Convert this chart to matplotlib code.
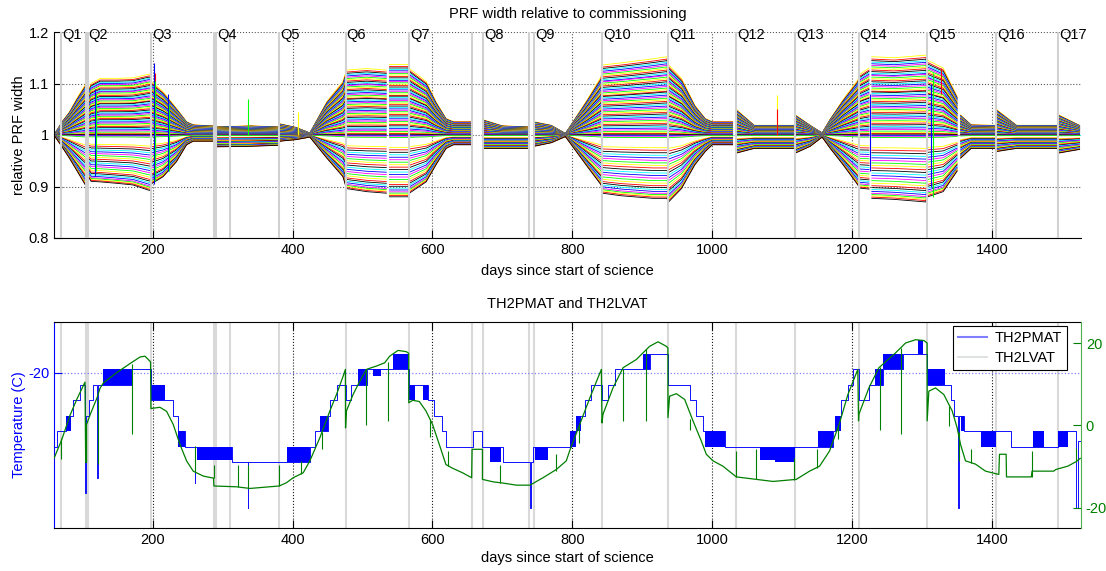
import numpy as np
import matplotlib.pyplot as plt
from matplotlib.lines import Line2D

plt.rcParams['font.family'] = ['Liberation Sans', 'DejaVu Sans']
plt.rcParams['font.size'] = 10
plt.rcParams['axes.unicode_minus'] = False

# ---------------- top panel: PRF width envelope ----------------
nan = np.nan
env_day = [59, 70, 81, 92, 103.3, 104.3, 107.5, 112, 125, 150, 172, 194, 197,
           198, 215, 234, 248.5, 258, 286, 287.5, 291.5, 340, 380, 382, 405, 424.7,
           449, 472, 477, 506, 534, 535.5, 538.5, 565, 567, 591, 605, 619.5, 630, 656,
           656.6, 672, 700, 737, 738, 745, 770, 790, 819.5, 841, 843, 870, 915, 935,
           937.5, 956, 975, 990, 1000, 1029, 1031, 1035, 1060, 1117, 1118, 1119, 1140,
           1157, 1168, 1187, 1208, 1210, 1224, 1225.5, 1228, 1260, 1305, 1308, 1330,
           1350, 1352, 1355, 1370, 1404, 1405, 1407, 1435, 1493, 1494.2, 1495.5, 1525]
env_up = [0.0, 0.025, 0.045, 0.072, 0.097, nan, 0.085, 0.100, 0.110, 0.110, 0.111, 0.118, 0.118,
          0.104, 0.084, 0.052, 0.026, 0.020, 0.018, nan, 0.016, 0.018, 0.016, 0.022, 0.015, 0.004,
          0.065, 0.104, 0.126, 0.129, 0.126, nan, 0.137, 0.137, 0.129, 0.104, 0.065, 0.032, 0.026, 0.026,
          nan, 0.030, 0.018, 0.016, nan, 0.026, 0.019, 0.003, 0.065, 0.113, 0.136, 0.140, 0.148, 0.152,
          0.136, 0.110, 0.058, 0.032, 0.026, 0.026, nan, 0.049, 0.019, 0.019, nan, 0.039, 0.019,
          0.004, 0.030, 0.069, 0.107, 0.117, 0.130, nan, 0.152, 0.150, 0.155, 0.145, 0.130,
          0.075, nan, 0.039, 0.020, 0.019, nan, 0.049, 0.019, 0.019, nan, 0.039, 0.019]
env_lo = [0.0, 0.022, 0.045, 0.070, 0.096, nan, 0.080, 0.090, 0.091, 0.094, 0.097, 0.107, 0.108,
          0.095, 0.081, 0.052, 0.019, 0.012, 0.012, nan, 0.023, 0.022, 0.020, 0.012, 0.009, 0.004,
          0.045, 0.081, 0.104, 0.110, 0.113, nan, 0.120, 0.120, 0.113, 0.091, 0.058, 0.026, 0.019, 0.019,
          nan, 0.026, 0.026, 0.026, nan, 0.022, 0.015, 0.003, 0.058, 0.097, 0.113, 0.118, 0.123, 0.123,
          0.130, 0.104, 0.058, 0.032, 0.019, 0.019, nan, 0.035, 0.026, 0.026, nan, 0.035, 0.022,
          0.004, 0.025, 0.058, 0.097, 0.103, 0.105, nan, 0.123, 0.125, 0.130, 0.120, 0.110,
          0.070, nan, 0.045, 0.026, 0.026, nan, 0.032, 0.026, 0.026, nan, 0.035, 0.028]

# relative position of each CCD channel inside the envelope (+ upper, - lower)
chan_frac = [1.00, 0.97, 0.95, 0.93, 0.91, 0.89, 0.87, 0.85, 0.83, 0.81, 0.79, 0.77, 0.76, 0.74,
             0.72, 0.70, 0.68, 0.66, 0.64, 0.62, 0.60, 0.58, 0.56, 0.55, 0.53, 0.51, 0.49, 0.47,
             0.45, 0.43, 0.41, 0.39, 0.37, 0.35, 0.33, 0.31, 0.29, 0.27, 0.25, 0.23, 0.21, 0.19,
             0.17, 0.15, 0.13, 0.11, 0.09, 0.07, 0.05, 0.03, 0.02, 0.01, 0.00, -0.01, -0.02, -0.04,
             -0.20, -0.24, -0.28, -0.32, -0.36, -0.40, -0.44, -0.48, -0.52, -0.56, -0.60, -0.64,
             -0.68, -0.72, -0.76, -0.80, -0.83, -0.86, -0.89, -0.92, -0.94, -0.96, -0.98, -1.00]

# short vertical glitches in the top panel
tspk_day = [118, 119, 202, 203, 204, 222, 224, 336, 408, 1092, 1093, 1225, 1313, 1315, 1327]
tspk_lo = [0.92, 0.93, 0.905, 0.92, 0.91, 0.93, 0.93, 1.0, 1.0, 1.0, 1.0, 0.93, 0.90, 0.88, 1.08]
tspk_hi = [1.09, 1.08, 1.14, 1.12, 1.105, 1.08, 1.06, 1.07, 1.045, 1.078, 1.05, 1.08, 1.10, 1.12, 1.13]
tspk_col = ['b', 'g', 'b', 'r', 'g', 'b', 'g', 'g', 'y', 'y', 'r', 'b', 'b', 'g', 'r']

# quarter boundaries and labels
qline_day = [69, 104.3, 107.1, 197.6, 287.6, 290.5, 310.4, 380.9, 475.7, 566.1, 656.6, 671.9,
             738, 744.7, 842.3, 936.6, 1034.3, 1118.6, 1209, 1307.1, 1405.7, 1494.7]
qlabel_day = [69, 107.1, 197.6, 290.5, 380.9, 475.7, 566.1, 671.9, 744.7, 842.3, 936.6,
              1034.3, 1118.6, 1209, 1307.1, 1405.7, 1494.7]
qlabels = ['Q%d' % n for n in range(1, 18)]

# ---------------- bottom panel: TH2PMAT (left axis, step trace) ----------------
pmat_day = [59.0, 63.7, 76.1, 85.7, 96.1, 103.5, 105.0, 109.4, 115.2, 121.0, 122.0, 170.0,
            197.6, 229.5, 236.6, 246.1, 260.0, 261.0, 312.8, 336.0, 337.0, 424.7, 431.9,
            450.9, 453.3, 463.0, 475.7, 484.2, 505.7, 566.1, 593.8, 601.9, 612.9, 620.0,
            658.1, 671.4, 700.9, 740.0, 741.5, 743.8, 798.5, 805.7, 817.6, 827.1, 842.3,
            850.9, 860.4, 910.4, 936.6, 967.6, 977.1, 986.6, 1017.6, 1172.4, 1174.7, 1184.2,
            1193.7, 1200.9, 1209.0, 1223.7, 1243.8, 1272.4, 1307.1, 1341.4, 1346.1, 1351.5,
            1353.0, 1360.4, 1427.1, 1493.8, 1520.0, 1522.5, 1527.0]
pmat_temp = [-22.39, -21.89, -21.39, -20.89, -20.39, -23.87, -21.39, -20.89, -20.39, -23.39,
             -20.39, -19.89, -20.89, -21.39, -21.89, -22.39, -23.55, -22.39, -22.89, -24.36,
             -22.89, -22.39, -21.89, -21.39, -20.89, -20.39, -20.89, -20.39, -19.89, -20.39,
             -20.89, -21.39, -21.89, -22.39, -21.89, -22.39, -22.89, -24.36, -22.89, -22.39,
             -21.89, -21.39, -20.89, -20.39, -20.89, -20.39, -19.89, -19.39, -20.39, -20.89,
             -21.39, -21.89, -22.39, -21.89, -21.39, -20.89, -20.39, -19.89, -20.89, -20.39,
             -19.89, -19.39, -20.39, -20.89, -21.39, -24.36, -21.39, -21.89, -22.39, -21.89,
             -24.36, -22.20, -22.20]

# dense toggling between two readout levels (drawn as filled blocks)
blk_start = [76, 129.5, 197.6, 236.6, 262.8, 391.4, 439.0, 493.7, 515.2, 543.8, 566.1, 586.6,
             681.9, 746.2, 796.1, 805.7, 900.9, 989.0, 1067.6, 1089.0, 1150.9, 1174.7, 1231.9,
             1243.8, 1293.8, 1308.1, 1355.7, 1384.2, 1459.0, 1493.8]
blk_end = [84, 170.0, 217.6, 246.0, 312.8, 424.7, 450.9, 505.7, 527.1, 565.2, 574.7, 593.8,
           698.5, 765.2, 805.7, 812.0, 910.4, 1017.6, 1089.0, 1117.6, 1172.4, 1184.2, 1243.8,
           1272.4, 1300.9, 1331.9, 1360.4, 1405.7, 1474.7, 1508.1]
blk_lo = [-21.89, -20.39, -20.89, -22.39, -22.80, -22.89, -21.89, -20.39, -20.10, -19.89, -20.89,
          -20.89, -22.89, -22.80, -22.39, -21.89, -19.89, -22.39, -22.80, -22.89, -22.39, -21.89,
          -20.39, -19.89, -19.39, -20.39, -21.89, -22.39, -22.39, -22.39]
blk_hi = [-21.39, -19.89, -20.39, -21.89, -22.39, -22.39, -21.39, -19.89, -19.89, -19.39, -20.39,
          -20.39, -22.39, -22.39, -21.89, -21.39, -19.39, -21.89, -22.39, -22.39, -21.89, -21.39,
          -19.89, -19.39, -18.95, -19.89, -21.39, -21.89, -21.89, -21.89]

# ---------------- bottom panel: TH2LVAT (right axis) ----------------
lvat_day = [59, 70, 82, 92, 103.3, 104.3, 105.5, 105.5, 110.9, 120.5, 124.7, 129.5, 148.5, 167.6,
            181.9, 189, 193.8, 197.0, 197.6, 210.4, 220.0, 229.5, 239.0, 248.5, 258.0, 272.4,
            287.0, 287.6, 320, 339, 381, 391.4, 400.9, 415.2, 424.7, 439, 453.3, 462.8, 472.4,
            475.5, 475.7, 477, 486.5, 496, 505.5, 519.8, 531.7, 538.8, 550.7, 562.6, 566.0,
            566.1, 571.7, 581.2, 590.7, 600.2, 609.7, 619.2, 628.8, 643, 656.0, 656.6, 671.4,
            671.4, 686.7, 701, 720, 739, 741.4, 758, 777, 791.3, 796, 810, 825, 841.4, 842.3,
            843.7, 858, 872.4, 891.4, 910.4, 922.4, 934.3, 936.5, 936.6, 939, 948.6, 960.5,
            972.4, 984.3, 991.4, 1001, 1015.2, 1034.3, 1062.9, 1086.7, 1120, 1139, 1153.3,
            1167.6, 1181.9, 1193.8, 1208, 1209, 1209.5, 1223.8, 1238.1, 1261.9, 1276.2, 1290.5,
            1302.4, 1307.0, 1307.1, 1309.5, 1319, 1330.9, 1342.9, 1350, 1354.8, 1361.9, 1376.2,
            1390.5, 1409.5, 1410.5, 1420, 1420.5, 1456, 1457, 1488, 1491, 1508, 1520, 1526]
lvat_temp = [-8.0, -3.5, 2.5, 6.5, 10.5, -9.0, -9.0, 0.2, 2.7, 6.7, 9.0, 10.3, 12.8, 15.0,
             16.6, 16.8, 16.0, 15.4, 4.1, 4.4, 3.4, 0.2, -4.6, -8.6, -11.1, -12.3,
             -12.8, -14.7, -14.9, -15.3, -14.7, -13.9, -12.7, -11.5, -8.6, -3.0, 3.5, 7.5, 12.0,
             13.6, -0.6, 3.5, 7.5, 10.7, 13.6, 14.4, 15.2, 16.8, 18.2, 17.9, 17.5,
             5.5, 6.1, 5.8, 3.5, 0.2, -4.6, -9.5, -10.4, -11.5, -12.7, -5.8, -5.8,
             -13.1, -13.7, -14.0, -14.5, -14.5, -14.3, -12.7, -10.7, -8.6, -6.2, 0.0, 6.7, 13.6, 0.6,
             2.7, 9.1, 14.0, 16.0, 19.2, 20.3, 19.2, 18.8, 1.9, 7.1, 7.7, 6.3,
             1.1, -3.8, -7.0, -8.6, -9.9, -12.5, -13.1, -13.6, -13.1, -11.1, -9.9,
             -6.2, 0.6, 7.5, 13.6, 1.1, 2.7, 9.1, 14.0, 17.6, 20.0, 20.8,
             20.6, 20.0, 1.1, 8.3, 9.1, 7.5, 3.5, -0.6, -4.6, -8.6, -9.4,
             -11.1, -11.9, -7.0, -7.0, -12.5, -12.5, -11.1, -11.1, -10.7, -9.9, -8.8, -8.0]

spk_day = [69, 121.4, 170.7, 261, 287, 322, 337, 381, 412, 442, 505, 537, 597, 622, 697, 776,
           809, 873, 905, 968, 1034, 1062, 1117, 1150, 1180, 1240, 1269, 1338, 1352, 1370, 1457, 1520]
spk_base = [-3.0, 6.5, 15.0, -11.3, -12.8, -15.0, -15.3, -14.7, -11.8, -1.5, 13.6, 15.5, 1.5, -9.8,
            -14.0, -11.0, -0.2, 13.8, 18.5, 1.5, -12.5, -13.1, -13.2, -10.3, 0.0, 14.2, 18.8, 4.8,
            -1.5, -9.1, -12.5, -8.8]
spk_tip = [-8.2, -9.4, -2.2, -5.0, -9.5, -9.5, -9.5, -9.5, -8.6, -5.8, 0.2, 1.0, -2.8, -6.2,
           -9.5, -7.0, -4.2, 1.1, 1.1, -1.0, -6.2, -5.8, -7.8, -5.8, -3.4, -1.0, -2.2, -0.2,
           -8.6, -5.8, -6.2, -5.4]

# ---------------- figure ----------------
fig = plt.figure(figsize=(11.06, 5.71), dpi=100)
W, H = 1106.0, 571.0
ax1 = fig.add_axes([54 / W, 1 - 238 / H, 1027 / W, 206 / H])
ax3 = fig.add_axes([54 / W, 1 - 528 / H, 1027 / W, 206 / H])
ax4 = ax3.twinx()

xlim = (59, 1527)
matlab_cols = ['b', 'g', 'r', 'c', 'm', 'y', 'k']
col_rgb = {'b': (0, 0, 1), 'g': (0, 1, 0), 'r': (1, 0, 0), 'c': (0, 1, 1),
           'm': (1, 0, 1), 'y': (1, 1, 0), 'k': (0, 0, 0)}

# top panel
d = np.array(env_day)
up = np.array(env_up)
lo = np.array(env_lo)
for i, f in enumerate(chan_frac):
    amp = up if f >= 0 else lo
    c = matlab_cols[(5 + 4 * i) % 7]
    ax1.plot(d, 1 + f * amp, color=col_rgb[c], lw=0.6, zorder=2)
for x, a, b, c in zip(tspk_day, tspk_lo, tspk_hi, tspk_col):
    ax1.vlines(x, a, b, color=col_rgb[c], lw=0.8, zorder=2)
for x in qline_day:
    ax1.axvline(x, color='0.82', lw=1.5, zorder=3)
for x, s in zip(qlabel_day, qlabels):
    ax1.text(x + 1.5, 1.194, s, ha='left', va='center', fontsize=10.5, zorder=4)

ax1.set_xlim(*xlim)
ax1.set_ylim(0.8, 1.2)
ax1.set_yticks([0.8, 0.9, 1.0, 1.1, 1.2])
ax1.set_yticklabels(['0.8', '0.9', '1', '1.1', '1.2'])
ax1.set_xticks([200, 400, 600, 800, 1000, 1200, 1400])
ax1.grid(True, ls=':', color='0.35', lw=0.8)
ax1.set_axisbelow(True)
ax1.spines['top'].set_visible(False)
ax1.spines['right'].set_visible(False)
ax1.tick_params(direction='in', length=6, width=0.8, labelsize=10.5)
ax1.set_title('PRF width relative to commissioning', fontsize=10.5, pad=10)
ax1.set_xlabel('days since start of science', fontsize=10.5, labelpad=5)
ax1.set_ylabel('relative PRF width', fontsize=10.5)
ax1.yaxis.set_label_coords(-0.027, 0.5)

# bottom panel
for x in qline_day:
    ax3.axvline(x, color='0.85', lw=1.5, zorder=1)
ax3.plot(pmat_day, pmat_temp, drawstyle='steps-post', color='#1010ff', lw=0.7, zorder=2)
for s, e, a, b in zip(blk_start, blk_end, blk_lo, blk_hi):
    ax3.fill_between([s, e], [a, a], [b, b], color='b', lw=0, zorder=2)
ax3.set_xlim(*xlim)
ax3.set_ylim(-25.0, -18.37)
ax3.set_yticks([-20])
ax3.set_xticks([200, 400, 600, 800, 1000, 1200, 1400])
ax3.grid(True, axis='x', ls=':', color='0.1', lw=0.8)
ax3.grid(True, axis='y', ls=':', color='#8080ff', lw=0.9)
ax3.tick_params(direction='in', length=6, width=0.8, labelsize=10.5, top=True)
ax3.tick_params(axis='y', colors='b')
ax3.spines['left'].set_color('b')
ax3.spines['right'].set_visible(False)
ax3.set_title('TH2PMAT and TH2LVAT', fontsize=10.5, pad=10)
ax3.set_xlabel('days since start of science', fontsize=10.5, labelpad=3)
ax3.set_ylabel('Temperature (C)', color='b', fontsize=10.5)
ax3.yaxis.set_label_coords(-0.027, 0.5)

ax4.plot(lvat_day, lvat_temp, color='#007f00', lw=0.9)
ax4.vlines(spk_day, spk_base, spk_tip, color='#008000', lw=0.8)
ax4.set_ylim(-24.9, 25.1)
ax4.set_yticks([-20, 0, 20])
ax4.tick_params(axis='y', direction='in', length=6, width=0.8, colors='#008000', labelsize=10.5)
ax4.spines['right'].set_color('#4caf4c')
ax4.spines['left'].set_visible(False)
ax4.spines['top'].set_visible(False)
ax4.spines['bottom'].set_visible(False)

handles = [Line2D([], [], color='#7f7fff', lw=1.5), Line2D([], [], color='#d9ded9', lw=1.2)]
leg = ax4.legend(handles, ['TH2PMAT', 'TH2LVAT'], loc='upper right',
                 bbox_to_anchor=(1067 / W, 1 - 326 / H), bbox_transform=fig.transFigure,
                 fancybox=False, framealpha=1, edgecolor='k', fontsize=10.5,
                 handlelength=2.0, handletextpad=0.5, borderpad=0.35, labelspacing=0.4,
                 borderaxespad=0)
leg.get_frame().set_linewidth(0.8)

fig.savefig('out.png', dpi=100)
